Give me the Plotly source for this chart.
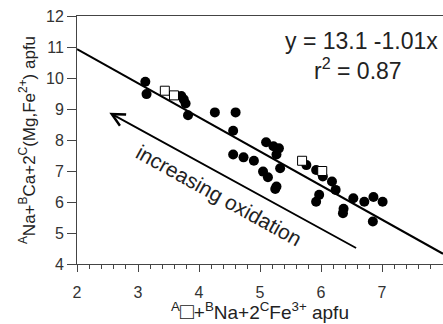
import plotly.graph_objects as go

# filled circles
circ_x = [3.12, 3.14, 3.71, 3.75, 3.78, 3.82, 4.26, 4.60, 4.56, 4.56, 4.73, 4.90,
          5.10, 5.22, 5.31, 5.27, 5.05, 5.13, 5.33, 5.27, 5.25, 5.76, 5.92, 6.03,
          6.18, 6.24, 5.97, 5.92, 6.53, 6.37, 6.36, 6.71, 6.86, 7.01, 6.85]
circ_y = [9.88, 9.48, 9.42, 9.31, 9.18, 8.80, 8.89, 8.89, 8.30, 7.53, 7.44, 7.33,
          7.93, 7.80, 7.73, 7.53, 6.98, 6.80, 7.09, 6.50, 6.42, 7.19, 7.03, 6.82,
          6.66, 6.39, 6.23, 6.01, 6.12, 5.78, 5.64, 6.01, 6.16, 6.01, 5.37]
# open squares
sq_x = [3.44, 3.59, 5.69, 6.02]
sq_y = [9.59, 9.44, 7.33, 7.00]
# regression line endpoints
fit_x = [2.0, 8.0]
fit_y = [10.93, 4.33]
# arrow (tail -> head)
arrow_tail = (6.60, 4.49)
arrow_head = (2.53, 8.88)

x_ticks = [2, 3, 4, 5, 6, 7, 8]
y_ticks = [4, 5, 6, 7, 8, 9, 10, 11, 12]

FONT = "Liberation Sans, Arial, sans-serif"
fig = go.Figure()
fig.add_trace(go.Scatter(x=fit_x, y=fit_y, mode="lines",
                         line=dict(color="black", width=2), hoverinfo="skip"))
fig.add_trace(go.Scatter(x=circ_x, y=circ_y, mode="markers",
                         marker=dict(symbol="circle", size=10, color="black")))
fig.add_trace(go.Scatter(x=sq_x, y=sq_y, mode="markers",
                         marker=dict(symbol="square", size=9, color="white",
                                     line=dict(color="black", width=1))))

fig.add_annotation(x=arrow_head[0], y=arrow_head[1], ax=arrow_tail[0], ay=arrow_tail[1],
                   xref="x", yref="y", axref="x", ayref="y", text="",
                   showarrow=True, arrowhead=5, arrowsize=1.4, arrowwidth=1.8,
                   arrowcolor="black")
fig.add_annotation(x=4.33, y=6.2, xref="x", yref="y", text="increasing oxidation",
                   showarrow=False, textangle=29,
                   font=dict(family=FONT, size=21, color="#222"))
fig.add_annotation(x=7.95, y=11.2, xref="x", yref="y", text="y = 13.1 -1.01x",
                   showarrow=False, xanchor="right",
                   font=dict(family=FONT, size=23, color="#222"))
fig.add_annotation(x=6.6, y=10.3, xref="x", yref="y", text="r<sup>2</sup> = 0.87",
                   showarrow=False,
                   font=dict(family=FONT, size=23, color="#222"))

fig.update_layout(
    width=443, height=324,
    margin=dict(l=77, r=0, t=16, b=60, autoexpand=False),
    paper_bgcolor="white", plot_bgcolor="white",
    showlegend=False,
    font=dict(family=FONT, color="#333"),
)
fig.update_xaxes(range=[2, 8], tickvals=x_ticks, ticks="outside", ticklen=7, tickwidth=1,
                 tickcolor="#444", showline=True, linecolor="#444", linewidth=1,
                 mirror=True, showgrid=False, zeroline=False, automargin=False,
                 ticklabelstandoff=7,
                 tickfont=dict(family=FONT, size=16, color="#333"),
                 minor=dict(dtick=0.2, ticks="outside", ticklen=4, tickcolor="#444",
                            showgrid=False),
                 title=dict(text="<sup>A</sup><span style='font-size:23px'>□</span>+<sup>B</sup>Na+2<sup>C</sup>Fe<sup>3+</sup> apfu",
                            font=dict(family=FONT, size=19, color="#222"), standoff=7))
fig.update_yaxes(range=[4, 12], tickvals=y_ticks, ticks="outside", ticklen=9, tickwidth=1,
                 tickcolor="#444", showline=True, linecolor="#444", linewidth=1,
                 mirror=True, showgrid=False, zeroline=False, automargin=False,
                 tickfont=dict(family=FONT, size=16, color="#333"),
                 title=dict(text="<sup>A</sup>Na+<sup>B</sup>Ca+2<sup>C</sup>(Mg,Fe<sup>2+</sup>) apfu",
                            font=dict(family=FONT, size=17, color="#222"), standoff=6))

fig.write_html("out.html", config={"displayModeBar": False},
               post_script="document.body.style.margin='0';document.body.style.overflow='hidden';")
